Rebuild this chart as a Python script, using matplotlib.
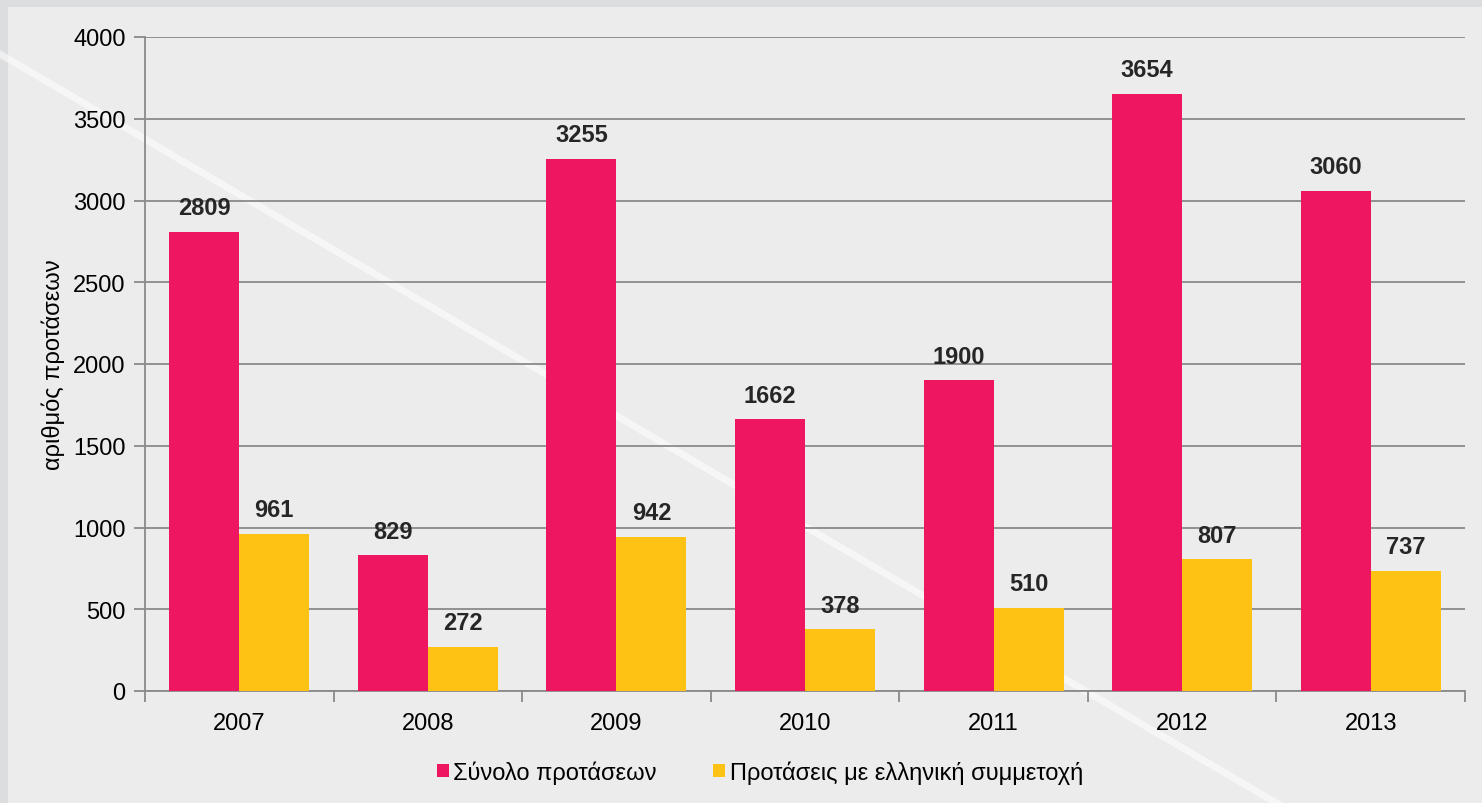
import matplotlib
matplotlib.use("Agg")
import matplotlib.pyplot as plt
import numpy as np
from matplotlib.patches import Rectangle
from matplotlib.lines import Line2D

years = ["2007", "2008", "2009", "2010", "2011", "2012", "2013"]
total = [2809, 829, 3255, 1662, 1900, 3654, 3060]
greek = [961, 272, 942, 378, 510, 807, 737]
series_names = ["Σύνολο προτάσεων", "Προτάσεις με ελληνική συμμετοχή"]
yticks = [0, 500, 1000, 1500, 2000, 2500, 3000, 3500, 4000]

pink = "#EE1660"
yellow = "#FDC214"
grid_c = "#8a8a8a"
bg = "#ececec"
FS = 17

plt.rcParams['font.family'] = ['Liberation Sans', 'DejaVu Sans']

W, H = 1482, 804
fig = plt.figure(figsize=(W/100, H/100), dpi=100)
fig.patch.set_facecolor(bg)

# frame strips top/left
fig.patches.append(Rectangle((0, 1 - 8/H), 1, 8/H, transform=fig.transFigure,
                             facecolor="#dcdddf", edgecolor="none", zorder=-2))
fig.patches.append(Rectangle((0, 0), 8/W, 1, transform=fig.transFigure,
                             facecolor="#dcdddf", edgecolor="none", zorder=-2))
# decorative diagonal line (background)
fig.lines.append(Line2D([0/W, 1290/W], [1 - 55/H, 1 - 812/H], transform=fig.transFigure,
                        color="white", lw=5, alpha=0.55, zorder=-1))

ax = fig.add_axes([145/W, 1 - 692/H, (1465-145)/W, (692-38)/H])
ax.set_facecolor("none")

x = np.arange(len(years))
bw = 0.371
ax.bar(x - bw/2, total, bw, color=pink, zorder=3, label=series_names[0])
ax.bar(x + bw/2, greek, bw, color=yellow, zorder=3, label=series_names[1])

for xi, v in zip(x, total):
    ax.annotate(str(v), (xi - bw/2, v), xytext=(0, 9), textcoords="offset points",
                ha="center", va="bottom", fontsize=FS, fontweight="bold", color="#262626", zorder=4)
for xi, v in zip(x, greek):
    ax.annotate(str(v), (xi + bw/2, v), xytext=(0, 9), textcoords="offset points",
                ha="center", va="bottom", fontsize=FS, fontweight="bold", color="#262626", zorder=4)

ax.set_xlim(-0.5, len(years) - 0.5)
ax.set_ylim(0, 4000)
ax.set_yticks(yticks)
ax.set_yticklabels([str(t) for t in yticks], fontsize=FS)
ax.yaxis.grid(True, color=grid_c, lw=1.3, zorder=1)
ax.set_axisbelow(True)

ax.set_xticks(np.arange(-0.5, len(years), 1.0))
ax.set_xticklabels([])
ax.set_xticks(x, minor=True)
ax.set_xticklabels(years, minor=True, fontsize=FS)
ax.tick_params(axis="x", which="minor", length=0, pad=15)
ax.tick_params(axis="x", which="major", length=8, width=1.3, color=grid_c)
ax.tick_params(axis="y", length=8, width=1.3, color=grid_c, pad=6)

for s in ["top", "right"]:
    ax.spines[s].set_visible(False)
for s in ["left", "bottom"]:
    ax.spines[s].set_color(grid_c)
    ax.spines[s].set_linewidth(1.3)

fig.text(53/W, 1 - 365/H, "αριθμός προτάσεων", rotation=90, ha="center", va="center", fontsize=FS)

leg = fig.legend(loc="center", bbox_to_anchor=(760/W, 1 - 773/H), ncol=2, frameon=False,
                 fontsize=FS, handlelength=0.5, handleheight=0.5, handletextpad=0.2,
                 columnspacing=2.4)

fig.savefig("out.png", dpi=100, facecolor=fig.get_facecolor())
